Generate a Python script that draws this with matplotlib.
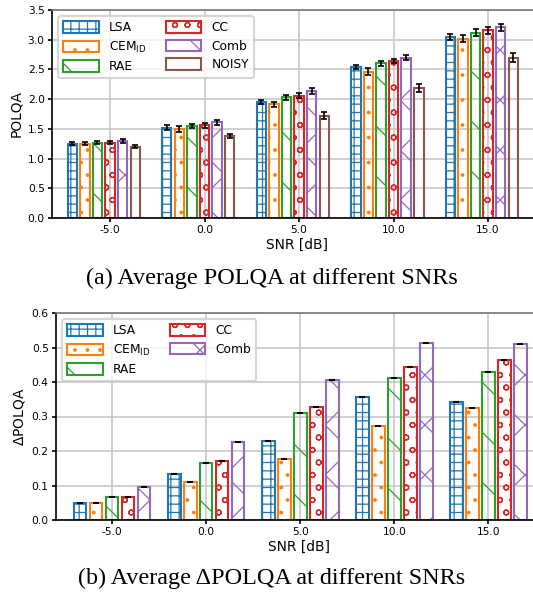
import numpy as np
import matplotlib
matplotlib.use('Agg')
import matplotlib.pyplot as plt

# SNR groups and methods
snr_labels = ['-5.0', '0.0', '5.0', '10.0', '15.0']
methods = ['LSA', r'CEM$_\mathregular{ID}$', 'RAE', 'CC', 'Comb', 'NOISY']
colors = ['C0', 'C1', 'C2', 'C3', 'C4', 'C5']
hatches = ['+++', '..', '\\', 'oo', 'x', '']

# (a) average POLQA
polqa_lsa = [1.25, 1.52, 1.95, 2.54, 3.04]
polqa_cem = [1.25, 1.49, 1.91, 2.46, 3.02]
polqa_rae = [1.27, 1.55, 2.03, 2.60, 3.12]
polqa_cc = [1.27, 1.56, 2.06, 2.64, 3.16]
polqa_comb = [1.30, 1.61, 2.14, 2.70, 3.21]
polqa_noisy = [1.20, 1.38, 1.72, 2.19, 2.70]

err_lsa = [0.03, 0.04, 0.04, 0.04, 0.05]
err_cem = [0.03, 0.05, 0.05, 0.06, 0.06]
err_rae = [0.03, 0.04, 0.04, 0.05, 0.06]
err_cc = [0.03, 0.04, 0.04, 0.04, 0.06]
err_comb = [0.03, 0.04, 0.05, 0.04, 0.06]
err_noisy = [0.03, 0.04, 0.06, 0.07, 0.08]

# (b) average delta POLQA
dpolqa_lsa = [0.050, 0.133, 0.228, 0.357, 0.342]
dpolqa_cem = [0.050, 0.110, 0.178, 0.272, 0.326]
dpolqa_rae = [0.067, 0.166, 0.310, 0.412, 0.428]
dpolqa_cc = [0.068, 0.170, 0.327, 0.444, 0.463]
dpolqa_comb = [0.095, 0.225, 0.407, 0.512, 0.511]

polqa = [polqa_lsa, polqa_cem, polqa_rae, polqa_cc, polqa_comb, polqa_noisy]
polqa_err = [err_lsa, err_cem, err_rae, err_cc, err_comb, err_noisy]
dpolqa = [dpolqa_lsa, dpolqa_cem, dpolqa_rae, dpolqa_cc, dpolqa_comb]

plt.rcParams['hatch.linewidth'] = 0.6
plt.rcParams['font.family'] = 'DejaVu Sans'

fig = plt.figure(figsize=(533 / 150, 594 / 150), dpi=150)
ax1 = fig.add_axes([52 / 533, 1 - 218 / 594, 490 / 533, 208 / 594])
ax2 = fig.add_axes([56 / 533, 1 - 520 / 594, 486 / 533, 207 / 594])

x = np.arange(len(snr_labels))


def draw_bars(ax, data, errs, n, pitch, width, capsize):
    for i in range(n):
        yerr = errs[i] if errs is not None else np.zeros(len(x))
        ax.bar(x + (i - n // 2) * pitch, data[i], width,
               fill=False, edgecolor=colors[i], hatch=hatches[i],
               linewidth=1.0, label=methods[i], yerr=yerr,
               error_kw=dict(ecolor='black', elinewidth=0.8,
                             capsize=capsize, capthick=0.8))


draw_bars(ax1, polqa, polqa_err, 6, 0.1333, 0.10, 1.5)
draw_bars(ax2, dpolqa, None, 5, 0.17, 0.135, 1.6)

for ax, ylab, ylim, step in [(ax1, 'POLQA', 3.5, 0.5),
                             (ax2, r'$\Delta$POLQA', 0.6, 0.1)]:
    ax.set_xticks(x)
    ax.set_xticklabels(snr_labels)
    ax.set_yticks(np.arange(0, ylim + step / 2, step))
    ax.set_ylim(0, ylim)
    ax.grid(True, color='#c8c8c8', linewidth=0.8)
    ax.set_axisbelow(True)
    ax.tick_params(labelsize=5.1, length=2, pad=1.5)
    ax.set_ylabel(ylab, fontsize=6.6, labelpad=2)
    ax.set_xlabel('SNR [dB]', fontsize=6.6, labelpad=1)
    ax.spines['top'].set_color('#777777')
    ax.legend(loc='upper left', ncol=2, fontsize=5.9, handlelength=2.9,
              handleheight=1.1, labelspacing=0.45, columnspacing=1.6,
              handletextpad=0.8)

ax1.set_yticklabels(['%.1f' % v for v in np.arange(0, 3.75, 0.5)])
ax2.set_yticklabels(['%.1f' % v for v in np.arange(0, 0.65, 0.1)])
ax1.set_xlim(-0.614, 4.57)
ax2.set_xlim(-0.596, 4.57)

fig.text(0.51, 1 - 278 / 594, '(a) Average POLQA at different SNRs',
         ha='center', va='center', fontsize=11.6, family='Liberation Serif')
fig.text(0.51, 1 - 578 / 594, '(b) Average \u0394POLQA at different SNRs',
         ha='center', va='center', fontsize=11.6, family='Liberation Serif')

fig.savefig('out.png', dpi=150)
